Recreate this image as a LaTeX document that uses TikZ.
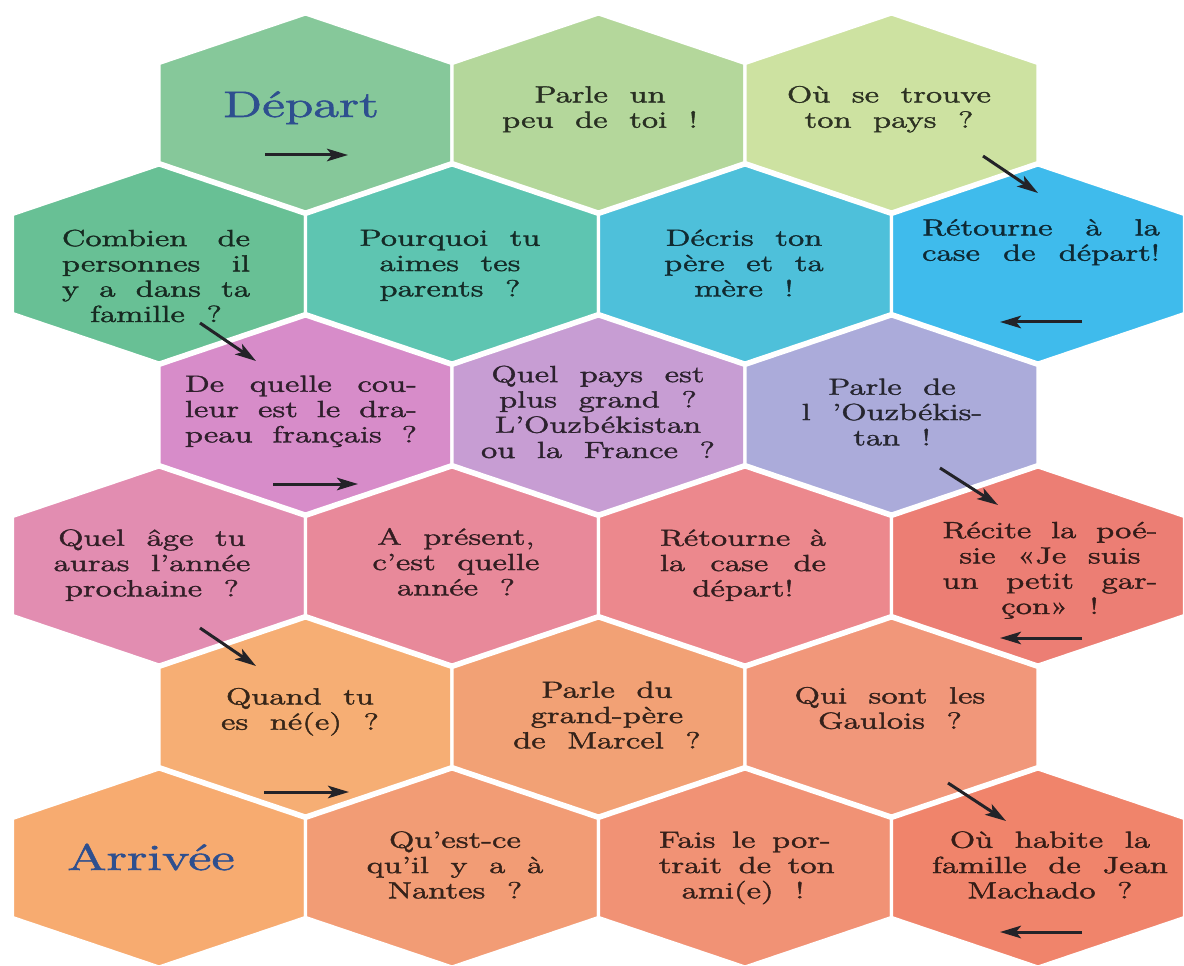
\documentclass[tikz,border=0pt]{standalone}
\usepackage{fontspec}
\setmainfont{lmroman12-regular.otf}[FakeBold=1.4]
\usetikzlibrary{arrows.meta}
\definecolor{cDep}{HTML}{86C89A}
\definecolor{cPar}{HTML}{B4D79B}
\definecolor{cOu}{HTML}{CDE2A1}
\definecolor{cCom}{HTML}{68C095}
\definecolor{cPou}{HTML}{5EC5B1}
\definecolor{cDec}{HTML}{4EC0DA}
\definecolor{cRet}{HTML}{3FBBEC}
\definecolor{cDeq}{HTML}{D78CC9}
\definecolor{cQpa}{HTML}{C79DD3}
\definecolor{cPde}{HTML}{ABABDA}
\definecolor{cQag}{HTML}{E28DB1}
\definecolor{cApr}{HTML}{E8899A}
\definecolor{cRe4}{HTML}{EC888D}
\definecolor{cRec}{HTML}{EC7E74}
\definecolor{cQua}{HTML}{F6AE74}
\definecolor{cPdu}{HTML}{F2A175}
\definecolor{cQui}{HTML}{F1977A}
\definecolor{cArr}{HTML}{F7AB70}
\definecolor{cQue}{HTML}{F29C75}
\definecolor{cFai}{HTML}{F19275}
\definecolor{cOuh}{HTML}{F0846B}
\definecolor{titleblue}{HTML}{2E4F8F}
\definecolor{arrowc}{HTML}{232328}
% justified line of given (unscaled) width
\newcommand\jl[2]{\makebox[#1][s]{#2}}
% horizontally stretched multi-line text block
\newcommand\hx[1]{\scalebox{1.42}[1]{\spaceskip=0.65em plus 0.4em minus 0.15em\begin{tabular}{@{}c@{}}#1\end{tabular}}}
\tikzset{
  lbl/.style={inner sep=0pt, font=\fontsize{13.3}{14.4}\selectfont},
  title/.style={inner sep=0pt, anchor=base, text=titleblue, font=\fontsize{21}{24}\selectfont},
  arr/.style={draw=arrowc, line width=0.06cm, -{Stealth[length=0.42cm,width=0.25cm,inset=0.1cm]}},
  hexcell/.style={draw=white, line width=0.065cm}
}
\begin{document}
\begin{tikzpicture}[x=0.02cm,y=-0.02cm]
\useasboundingbox (0,0) rectangle (1184,966);
\foreach \cx/\cy/\cc in {305.5/112/cDep, 598.5/112/cPar, 891.5/112/cOu,
  159/263/cCom, 452/263/cPou, 745/263/cDec, 1038/263/cRet,
  305.5/414/cDeq, 598.5/414/cQpa, 891.5/414/cPde,
  159/565/cQag, 452/565/cApr, 745/565/cRe4, 1038/565/cRec,
  305.5/716/cQua, 598.5/716/cPdu, 891.5/716/cQui,
  159/867/cArr, 452/867/cQue, 745/867/cFai, 1038/867/cOuh}
{
  \filldraw[hexcell, fill=\cc] (\cx,\cy) ++(0,-98) -- ++(146.5,49.5) -- ++(0,99) -- ++(-146.5,49.5) -- ++(-146.5,-49.5) -- ++(0,-99) -- cycle;
}
% texts
\node[title] (dep) at (301,117) {\scalebox{1.42}[1]{Départ}};
\node[title] (arv) at (151,870) {\scalebox{1.45}[1]{Arrivée}};
\node[lbl, text=cPar!22!black] (par) at (600,110) {\hx{Parle un\\peu de toi !}};
\node[lbl, text=cOu!22!black] (ou) at (889,110) {\hx{Où se trouve\\ton pays ?}};
\node[lbl, text=cCom!22!black] (com) at (156,279) {\hx{\jl{2.65cm}{Combien de}\\\jl{2.65cm}{personnes il}\\\jl{2.65cm}{y a dans ta}\\famille ?}};
\node[lbl, text=cPou!22!black] (pou) at (450,266) {\hx{Pourquoi tu\\aimes tes\\parents ?}};
\node[lbl, text=cDec!22!black] (dec) at (744,266) {\hx{Décris ton\\père et ta\\mère !}};
\node[lbl, text=cRet!22!black] (ret) at (1041,243) {\hx{\jl{3.35cm}{Rétourne à la}\\\jl{3.35cm}{case de départ!}}};
\node[lbl, text=cDeq!22!black] (deq) at (301,412) {\hx{\jl{3.27cm}{De quelle cou-}\\\jl{3.27cm}{leur est le dra-}\\\jl{3.27cm}{peau français ?}}};
\node[lbl, text=cQpa!22!black] (qpa) at (598,415) {\hx{Quel pays est\\plus grand ?\\L'Ouzbékistan\\ou la France ?}};
\node[lbl, text=cPde!22!black] (pde) at (892,415) {\hx{Parle de\\l 'Ouzbékis-\\tan !}};
\node[lbl, text=cQag!22!black] (qag) at (152,566) {\hx{Quel âge tu\\auras l'année\\prochaine ?}};
\node[lbl, text=cApr!22!black] (apr) at (456,565) {\hx{A présent,\\c'est quelle\\année ?}};
\node[lbl, text=cRe4!22!black] (re4) at (743,566) {\hx{\jl{2.34cm}{Rétourne à}\\\jl{2.34cm}{la case de}\\départ!}};
\node[lbl, text=cRec!22!black] (rec) at (1050,571) {\hx{\jl{3.03cm}{Récite la poé-}\\sie «Je suis\\\jl{3.03cm}{un petit gar-}\\çon» !}};
\node[lbl, text=cQua!22!black] (qua) at (300,712) {\hx{Quand tu\\es né(e) ?}};
\node[lbl, text=cPdu!22!black] (pdu) at (607,718) {\hx{Parle du\\grand-père\\de Marcel ?}};
\node[lbl, text=cQui!22!black] (qui) at (890,711) {\hx{Qui sont les\\Gaulois ?}};
\node[lbl, text=cQue!22!black] (que) at (455,868) {\hx{Qu'est-ce\\qu'il y a à\\Nantes ?}};
\node[lbl, text=cFai!22!black] (fai) at (743,868) {\hx{\jl{2.37cm}{Fais le por-}\\\jl{2.37cm}{trait de ton}\\ami(e) !}};
\node[lbl, text=cOuh!22!black] (ouh) at (1050,868) {\hx{Où habite la\\famille de Jean\\Machado ?}};
% arrows
\coordinate (a1s) at (265,155);  \coordinate (a1e) at (348,155);
\coordinate (a2s) at (983,156);  \coordinate (a2e) at (1038,193);
\coordinate (a3s) at (1082,322); \coordinate (a3e) at (1000,322);
\coordinate (a4s) at (200,323);  \coordinate (a4e) at (256,361);
\coordinate (a5s) at (273,484);  \coordinate (a5e) at (358,484);
\coordinate (a6s) at (940,468);  \coordinate (a6e) at (998,505);
\coordinate (a7s) at (1082,638); \coordinate (a7e) at (1000,638);
\coordinate (a8s) at (200,628);  \coordinate (a8e) at (256,666);
\coordinate (a9s) at (264,792);  \coordinate (a9e) at (349,792);
\coordinate (a10s) at (948,783); \coordinate (a10e) at (1006,821);
\coordinate (a11s) at (1082,932); \coordinate (a11e) at (1000,932);
\foreach \i in {1,...,11} { \draw[arr] (a\i s) -- (a\i e); }
\end{tikzpicture}
\end{document}
